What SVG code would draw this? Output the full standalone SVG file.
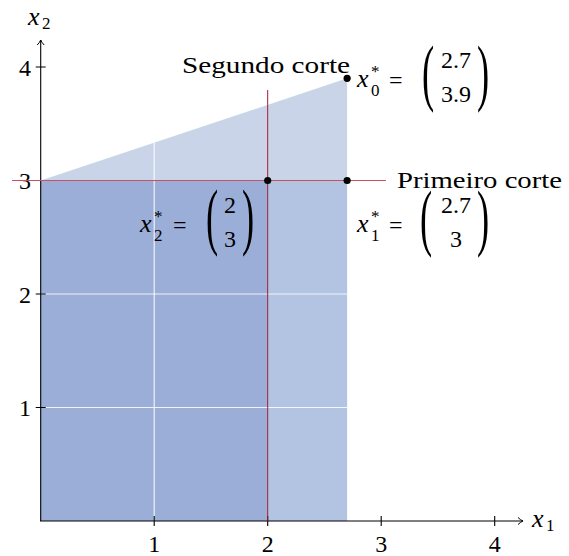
<svg xmlns="http://www.w3.org/2000/svg" width="569" height="556" viewBox="0 0 569 556">
<defs>
<style>
.ax{stroke:#000;stroke-width:1.1;fill:none}
.grid{stroke:#fff;stroke-width:1.2;opacity:0.85}
.dot{fill:#000}
</style>
<marker id="arr" markerWidth="10" markerHeight="10" refX="7" refY="5" orient="auto" markerUnits="userSpaceOnUse">
<path d="M2,1.5 Q4.5,4 7,5 Q4.5,6 2,8.5" fill="none" stroke="#000" stroke-width="1"/>
</marker>
</defs>
<rect width="569" height="556" fill="#fff"/>
<g id="regions">
<polygon points="40.7,180.5 347.15,78.35 347.15,180.5" fill="#cad4e9"/>
<rect x="40.7" y="180.5" width="306.45" height="340.5" fill="#b3c3e2"/>
<rect x="40.7" y="180.5" width="227" height="340.5" fill="#9aaed7"/>
</g>
<g id="grid">
<line class="grid" x1="154.2" y1="142.7" x2="154.2" y2="526"/>
<line class="grid" x1="36" y1="294" x2="347.15" y2="294"/>
<line class="grid" x1="36" y1="407.5" x2="347.15" y2="407.5"/>
</g>
<g id="axes">
<line class="ax" x1="40.7" y1="521" x2="40.7" y2="40" marker-end="url(#arr)"/>
<line class="ax" x1="40" y1="521" x2="523" y2="521" marker-end="url(#arr)"/>
<path class="ax" d="M154.2,516V526M267.7,516V526M381.2,516V526M494.7,516V526M35.7,67H45.7M35.7,180.5H45.7M35.7,294H45.7M35.7,407.5H45.7"/>
<g font-family="Liberation Serif" font-size="24">
<g text-anchor="middle">
<text x="154.2" y="552">1</text>
<text x="267.7" y="552">2</text>
<text x="381.2" y="552">3</text>
<text x="494.7" y="552">4</text>
</g>
<g text-anchor="end">
<text x="31" y="75.5">4</text>
<text x="31" y="189">3</text>
<text x="31" y="302.5">2</text>
<text x="31" y="416">1</text>
</g>
<text x="28" y="25" font-size="26" font-style="italic">x</text><text x="42" y="29" font-size="17">2</text>
<text x="532" y="527" font-size="26" font-style="italic">x</text><text x="546" y="531" font-size="17">1</text>
</g>
</g>
<g id="connectors">
<line x1="12" y1="180.5" x2="386" y2="180.5" stroke="#c8505f" stroke-width="1"/>
<line x1="267.7" y1="90" x2="267.7" y2="521" stroke="#a31c36" stroke-width="1"/>
</g>
<g font-family="Liberation Serif" font-size="24">
<g id="label-segundo">
<text x="182" y="73" textLength="168" lengthAdjust="spacingAndGlyphs">Segundo corte</text>
</g>
<g id="label-primeiro">
<text x="397" y="188" textLength="165" lengthAdjust="spacingAndGlyphs">Primeiro corte</text>
</g>
<g id="x0">
<circle class="dot" cx="347.15" cy="78.35" r="3.6"/>
<text x="357" y="87" font-size="26" font-style="italic">x</text><text x="371" y="77" font-size="17">*</text><text x="371" y="96" font-size="17">0</text>
<text x="389" y="88">=</text>
<text font-size="73" transform="translate(422,97) scale(0.5,1)">(</text>
<text x="456" y="68" text-anchor="middle">2.7</text>
<text x="456" y="102" text-anchor="middle">3.9</text>
<text font-size="73" transform="translate(477,97) scale(0.5,1)">)</text>
</g>
<g id="x1">
<circle class="dot" cx="347.15" cy="180.5" r="3.6"/>
<text x="357" y="232" font-size="26" font-style="italic">x</text><text x="371" y="222" font-size="17">*</text><text x="371" y="241" font-size="17">1</text>
<text x="389" y="233">=</text>
<text font-size="73" transform="translate(420,242) scale(0.5,1)">(</text>
<text x="456" y="213" text-anchor="middle">2.7</text>
<text x="456" y="247" text-anchor="middle">3</text>
<text font-size="73" transform="translate(477,242) scale(0.5,1)">)</text>
</g>
<g id="x2">
<circle class="dot" cx="267.7" cy="180.5" r="3.6"/>
<text x="140" y="232" font-size="26" font-style="italic">x</text><text x="154" y="222" font-size="17">*</text><text x="154" y="241" font-size="17">2</text>
<text x="173" y="233">=</text>
<text font-size="73" transform="translate(206,241) scale(0.5,1)">(</text>
<text x="230" y="213" text-anchor="middle">2</text>
<text x="230" y="247" text-anchor="middle">3</text>
<text font-size="73" transform="translate(242,241) scale(0.5,1)">)</text>
</g>
</g>
</svg>
